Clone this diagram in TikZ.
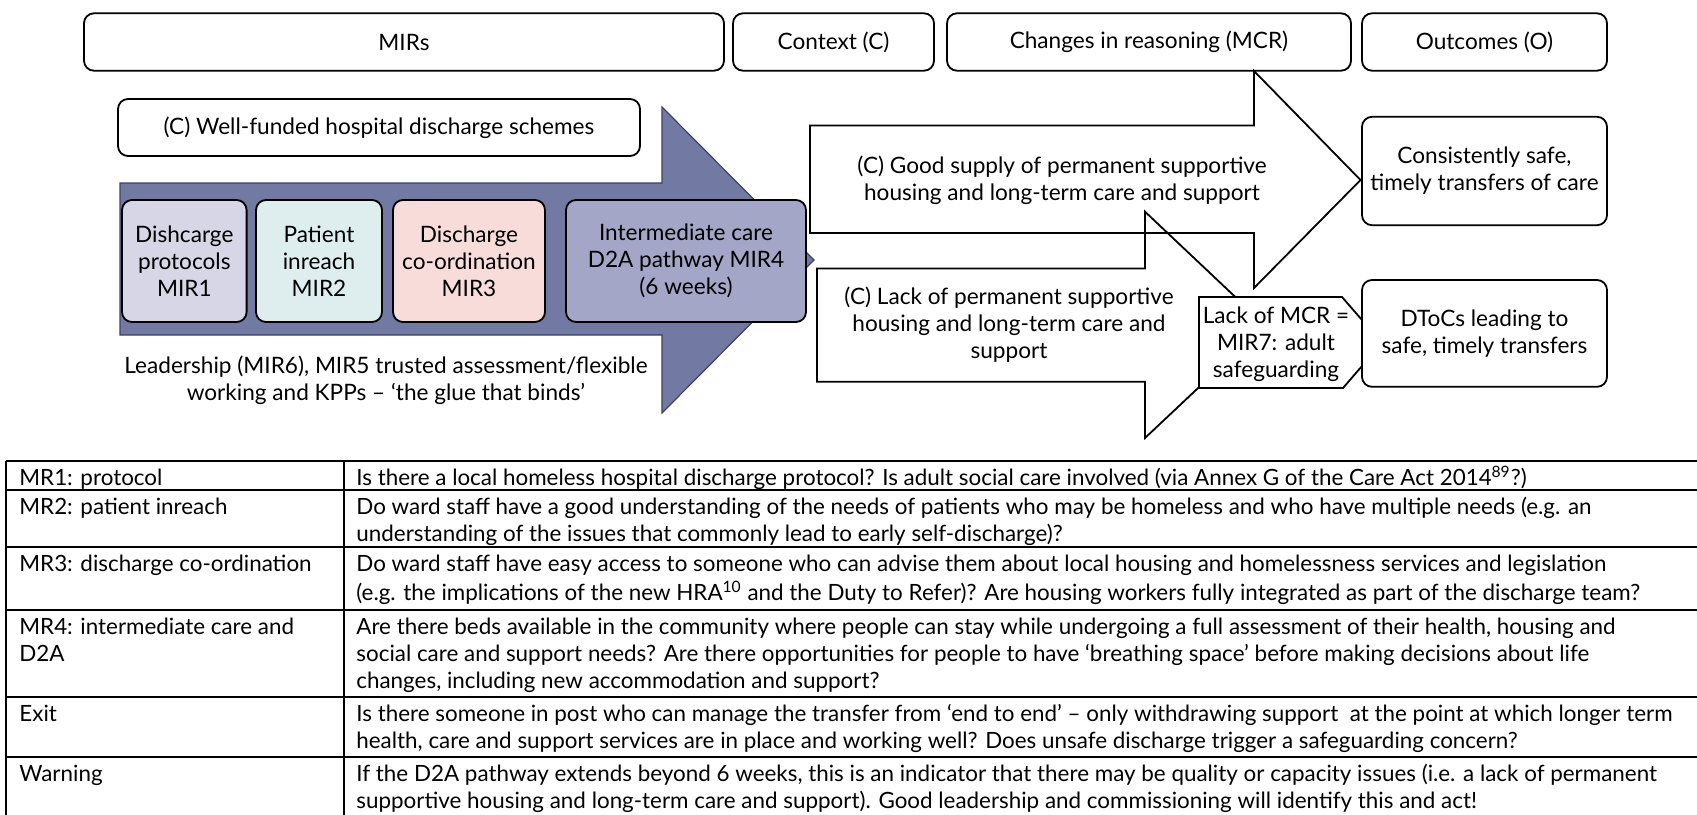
\documentclass[tikz,border=0pt]{standalone}
\usepackage{fontspec}
\setmainfont{Lato}
\newcommand{\diagfont}{\fontsize{11.3}{13.5}\selectfont}
\newcommand{\tblfont}{\fontsize{11.2}{13.5}\selectfont}
\definecolor{arrowfill}{RGB}{114,121,162}
\definecolor{arrowline}{RGB}{60,66,105}
\definecolor{mirone}{RGB}{214,214,230}
\definecolor{mirtwo}{RGB}{222,238,238}
\definecolor{mirthree}{RGB}{248,220,218}
\definecolor{mirfour}{RGB}{164,166,199}
\tikzset{
  rbox/.style={draw, rounded corners=5pt, line width=0.9pt, align=center, inner sep=2pt, font=\diagfont},
  plain/.style={align=center, inner sep=0pt, font=\diagfont},
  bigarrow/.style={fill=arrowfill, draw=arrowline, line width=0.6pt},
  openarrow/.style={draw, line width=0.9pt},
  tblline/.style={line width=1pt},
  cell/.style={anchor=north west, inner sep=0pt, align=left, font=\tblfont}
}
\begin{document}
\begin{tikzpicture}[x=0.5pt,y=-0.5pt]
\useasboundingbox (0,0) rectangle (1697,814);
% header row
\node[rbox, minimum width=320pt, minimum height=28.7pt] (mirs) at (404,42) {MIRs};
\node[rbox, minimum width=100.5pt, minimum height=28.7pt] (context) at (833.5,42) {Context (C)};
\node[rbox, minimum width=202pt, minimum height=28.7pt] (mcr) at (1149,42) {Changes in reasoning (MCR)};
\node[rbox, minimum width=122.5pt, minimum height=28.7pt] (outcomes) at (1484.5,42) {Outcomes (O)};
% big arrow with the MIRs
\draw[bigarrow] (120,183) -- (662,183) -- (662,107) -- (814,260) -- (662,413) -- (662,335) -- (120,335) -- cycle;
\node[rbox, minimum width=261pt, minimum height=28.5pt] (funded) at (379,127.5) {(C) Well-funded hospital discharge schemes};
\node[rbox, fill=mirone, minimum width=62.3pt, minimum height=61pt] (mir1) at (184.3,261) {Dishcarge\\protocols\\MIR1};
\node[rbox, fill=mirtwo, minimum width=63pt, minimum height=61pt] (mir2) at (319,261) {Patient\\inreach\\MIR2};
\node[rbox, fill=mirthree, minimum width=76pt, minimum height=61pt] (mir3) at (469,261) {Discharge\\co-ordination\\MIR3};
\node[rbox, fill=mirfour, minimum width=120pt, minimum height=61pt] (mir4) at (686,261) {Intermediate care\\D2A pathway MIR4\\(6 weeks)};
\node[plain] (glue) at (386,380) {Leadership (MIR6), MIR5 trusted assessment/flexible\\working and KPPs – ‘the glue that binds’};
% context arrows
\draw[openarrow] (810,125.5) -- (1254,125.5) -- (1254,71) -- (1360.5,180) -- (1254,288) -- (1254,233) -- (810,233) -- cycle;
\draw[openarrow] (817,268.5) -- (1145,268.5) -- (1145,211.7) -- (1265,325) -- (1145,438) -- (1145,381.7) -- (817,381.7) -- cycle;
\node[plain] (goodsupply) at (1062,180) {(C) Good supply of permanent supportive\\housing and long-term care and support};
\node[plain] (lacksupply) at (1009,325) {(C) Lack of permanent supportive\\housing and long-term care and\\support};
\draw[openarrow, fill=white] (1199,297) -- (1342,297) -- (1362,320) -- (1362,366) -- (1343,388) -- (1199,388) -- cycle;
\node[plain] (lackmcr) at (1276,344) {Lack of MCR =\\MIR7: adult\\safeguarding};
% outcomes
\node[rbox, fill=white, minimum width=122.5pt, minimum height=54.2pt] (safe) at (1484.5,171) {Consistently safe,\\timely transfers of care};
\node[rbox, fill=white, minimum width=122.5pt, minimum height=53.4pt] (dtocs) at (1484.5,333.4) {DToCs leading to\\safe, timely transfers};
% table
\foreach \yy in {461,490,547,610,697,757} \draw[tblline] (6,\yy) -- (1700,\yy);
\draw[tblline] (6,461) -- (6,820);
\draw[tblline] (344,461) -- (344,820);
\node[cell] (mrone) at (19,466) {\strut MR1: protocol};
\node[cell] (qone) at (356,466) {\strut Is there a local homeless hospital discharge protocol? Is adult social care involved (via Annex G of the Care Act 2014\textsuperscript{89}?)};
\node[cell] (mrtwo) at (19,495) {\strut MR2: patient inreach};
\node[cell] (qtwo) at (356,495) {\strut Do ward staff have a good understanding of the needs of patients who may be homeless and who have multiple needs (e.g. an\\understanding of the issues that commonly lead to early self-discharge)?};
\node[cell] (mrthree) at (19,552) {\strut MR3: discharge co-ordination};
\node[cell] (qthree) at (356,552) {\strut Do ward staff have easy access to someone who can advise them about local housing and homelessness services and legislation\\(e.g. the implications of the new HRA\textsuperscript{10} and the Duty to Refer)? Are housing workers fully integrated as part of the discharge team?};
\node[cell] (mrfour) at (19,615) {\strut MR4: intermediate care and\\D2A};
\node[cell] (qfour) at (356,615) {\strut Are there beds available in the community where people can stay while undergoing a full assessment of their health, housing and\\social care and support needs? Are there opportunities for people to have ‘breathing space’ before making decisions about life\\changes, including new accommodation and support?};
\node[cell] (exit) at (19,702) {\strut Exit};
\node[cell] (qexit) at (356,702) {\strut Is there someone in post who can manage the transfer from ‘end to end’ – only withdrawing support\ \ at the point at which longer term\\health, care and support services are in place and working well? Does unsafe discharge trigger a safeguarding concern?};
\node[cell] (warn) at (19,762) {\strut Warning};
\node[cell] (qwarn) at (356,762) {\strut If the D2A pathway extends beyond 6 weeks, this is an indicator that there may be quality or capacity issues (i.e. a lack of permanent\\supportive housing and long-term care and support). Good leadership and commissioning will identify this and act!};
\end{tikzpicture}
\end{document}
